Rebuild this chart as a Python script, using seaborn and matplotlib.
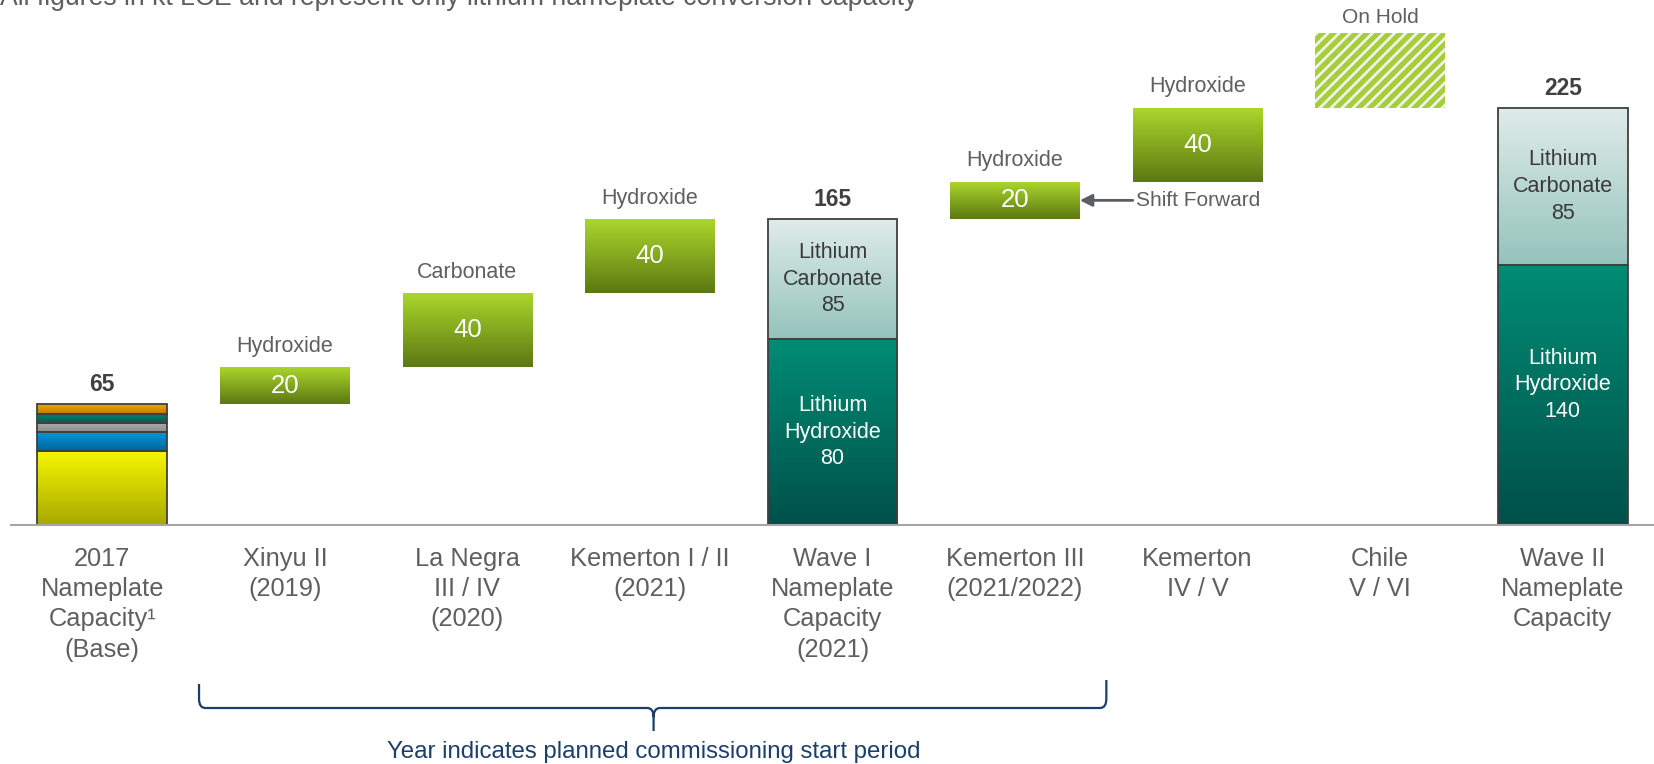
import numpy as np
import matplotlib
matplotlib.use("Agg")
import matplotlib.pyplot as plt
import seaborn as sns
from matplotlib.colors import LinearSegmentedColormap
from matplotlib.path import Path
from matplotlib.patches import PathPatch
from matplotlib.transforms import blended_transform_factory

# ---------------- data (kt LCE) ----------------
categories = [
    "2017\nNameplate\nCapacity\u00b9\n(Base)",
    "Xinyu II\n(2019)",
    "La Negra\nIII / IV\n(2020)",
    "Kemerton I / II\n(2021)",
    "Wave I\nNameplate\nCapacity\n(2021)",
    "Kemerton III\n(2021/2022)",
    "Kemerton\nIV / V",
    "Chile\nV / VI",
    "Wave II\nNameplate\nCapacity",
]
base_total = 65
base_segments = [40, 10, 5, 5, 5]          # yellow, blue, grey, teal, orange
step_names = ["Xinyu II", "La Negra", "Kemerton I/II", "Kemerton III", "Kemerton IV/V"]
step_products = ["Hydroxide", "Carbonate", "Hydroxide", "Hydroxide", "Hydroxide"]
step_values = [20, 40, 40, 20, 40]
on_hold_value = 40                          # Chile V / VI
wave1_total = 165
wave1_labels = [80, 85]                     # hydroxide, carbonate (as labelled)
wave1_drawn = [100, 65]                     # hydroxide, carbonate (as drawn)
wave2_total = 225
wave2_segments = [140, 85]                  # hydroxide, carbonate

# ---------------- style ----------------
sns.set_style("white")
plt.rcParams["font.family"] = ["Liberation Sans", "DejaVu Sans"]
plt.rcParams["hatch.linewidth"] = 3.7

GREY_TXT = "#5f5f5f"
EDGE = "#404040"
NAVY = "#1b3f6b"

fig = plt.figure(figsize=(16.54, 7.64), dpi=100)
ax = fig.add_axes([11 / 1654, 239 / 764, 1643 / 1654, 525 / 764])

# waterfall positions
step_pos = [1, 2, 3, 5, 6]
step_tops = base_total + np.cumsum(step_values)
step_bottoms = step_tops - np.array(step_values)
chile_bottom = step_tops[-1]

heights0 = [base_segments[0]] + [0] * 8
bottoms0 = [0] * 9
for p, v, b in zip(step_pos, step_values, step_bottoms):
    heights0[p] = v
    bottoms0[p] = b
heights0[4] = wave1_drawn[0]
heights0[7] = on_hold_value
bottoms0[7] = chile_bottom
heights0[8] = wave2_segments[0]

W = 0.71
sns.barplot(x=categories, y=heights0, bottom=bottoms0, order=categories,
            width=W, errorbar=None, color="white", saturation=1, ax=ax)
bars0 = list(ax.patches)

# extra stacked segments
base_cum = np.cumsum(base_segments)
base_extra = ax.bar([0] * 4, base_segments[1:], bottom=base_cum[:-1], width=W)
w1_extra = ax.bar([4], [wave1_drawn[1]], bottom=[wave1_drawn[0]], width=W)
w2_extra = ax.bar([8], [wave2_segments[1]], bottom=[wave2_segments[0]], width=W)


def fill_gradient(patch, top_c, bot_c, edge=None):
    x0, y0 = patch.get_x(), patch.get_y()
    w, h = patch.get_width(), patch.get_height()
    cmap = LinearSegmentedColormap.from_list("g", [bot_c, top_c])
    im = ax.imshow(np.linspace(0, 1, 256).reshape(-1, 1), cmap=cmap,
                   extent=(x0, x0 + w, y0, y0 + h), origin="lower",
                   aspect="auto", interpolation="bilinear", zorder=1.5)
    im.set_clip_path(patch)
    patch.set_facecolor("none")
    patch.set_zorder(2)
    if edge is None:
        patch.set_linewidth(0)
    else:
        patch.set_edgecolor(edge)
        patch.set_linewidth(1.3)


GREEN = ("#acd82c", "#5c7812")
HYD = ("#008c75", "#00504a")
CARB = ("#e0ecea", "#94c3bb")

fill_gradient(bars0[0], "#f8f800", "#a8a800", EDGE)
for p in step_pos:
    fill_gradient(bars0[p], *GREEN)
fill_gradient(bars0[4], *HYD, EDGE)
fill_gradient(bars0[8], *HYD, EDGE)
# on hold
hb = bars0[7]
hb.set_facecolor("#f2f2f2")
hb.set_edgecolor("#a6ce39")
hb.set_hatch("///")
hb.set_linewidth(0)

base_cols = [("#0098da", "#00649c"), ("#ababab", "#8d8d8d"),
             ("#00876f", "#005d4e"), ("#f5a500", "#c07800")]
for patch, (t, b) in zip(base_extra.patches, base_cols):
    fill_gradient(patch, t, b, EDGE)
fill_gradient(w1_extra.patches[0], *CARB, EDGE)
fill_gradient(w2_extra.patches[0], *CARB, EDGE)

# ---------------- text ----------------
for x, v in [(0, base_total), (4, wave1_total), (8, wave2_total)]:
    ax.annotate(str(v), (x, v), xytext=(0, 14), textcoords="offset points",
                ha="center", va="center", fontsize=16.5, fontweight="bold",
                color=EDGE)

for p, v, b, name in zip(step_pos, step_values, step_bottoms, step_products):
    ax.text(p, b + v / 2, str(v), ha="center", va="center", fontsize=18.5,
            color="white")
    ax.annotate(name, (p, b + v), xytext=(0, 15), textcoords="offset points",
                ha="center", va="center", fontsize=15.5, color=GREY_TXT)

ax.annotate("On Hold", (7, chile_bottom + on_hold_value), xytext=(0, 11.5),
            textcoords="offset points", ha="center", va="center",
            fontsize=15, color=GREY_TXT)

seg_txt = dict(ha="center", va="center", fontsize=15.5, linespacing=1.35)
ax.text(4, wave1_drawn[0] / 2, f"Lithium\nHydroxide\n{wave1_labels[0]}",
        color="white", **seg_txt)
ax.text(4, wave1_drawn[0] + wave1_drawn[1] / 2,
        f"Lithium\nCarbonate\n{wave1_labels[1]}", color="#3a3a3a", **seg_txt)
ax.text(8, wave2_segments[0] * 0.54, f"Lithium\nHydroxide\n{wave2_segments[0]}",
        color="white", **seg_txt)
ax.text(8, wave2_segments[0] + wave2_segments[1] / 2,
        f"Lithium\nCarbonate\n{wave2_segments[1]}", color="#3a3a3a", **seg_txt)

# shift forward arrow
kem3_mid = step_bottoms[3] + step_values[3] / 2
ax.annotate("", xy=(5 + W / 2, kem3_mid), xytext=(5.645, kem3_mid),
            arrowprops=dict(arrowstyle="-|>", color="#5a5f63", lw=2,
                            mutation_scale=18, shrinkA=0, shrinkB=0))
ax.text(5.665, kem3_mid, "Shift Forward", ha="left", va="center",
        fontsize=15, color=GREY_TXT)

# ---------------- axes ----------------
ax.set_xlim(-0.5, 8.5)
ax.set_ylim(0, 283)
ax.set_yticks([])
ax.set_xlabel("")
ax.set_ylabel("")
ax.set_xticks(range(9))
ax.set_xticklabels(categories, linespacing=1.34)
ax.set_xticks(np.arange(-0.5, 9, 1), minor=True)
ax.tick_params(axis="x", which="major", length=0, pad=15.5, labelsize=18.3,
               labelcolor=GREY_TXT)
ax.tick_params(axis="x", which="minor", length=5.5, width=1.5,
               color="#a6a6a6", direction="out")
for s in ["left", "top", "right"]:
    ax.spines[s].set_visible(False)
ax.spines["bottom"].set_color("#a6a6a6")
ax.spines["bottom"].set_linewidth(1.5)
ax.set_zorder(1)

# ---------------- bracket & notes ----------------
tr = blended_transform_factory(ax.transData, fig.transFigure)
x0, x1, xc = 0.53, 5.50, 3.02
yt_l, yt_r, yh, yp = 1 - 684 / 764, 1 - 680 / 764, 1 - 708 / 764, 1 - 731 / 764
rx, ry = 0.035, 0.012
verts = [
    (x0, yt_l), (x0, yh + ry), (x0, yh), (x0 + rx, yh),
    (xc - rx, yh), (xc, yh), (xc, yh - ry), (xc, yp),
    (xc, yh - ry), (xc, yh), (xc + rx, yh),
    (x1 - rx, yh), (x1, yh), (x1, yh + ry), (x1, yt_r),
]
codes = [Path.MOVETO, Path.LINETO, Path.CURVE3, Path.CURVE3,
         Path.LINETO, Path.CURVE3, Path.CURVE3, Path.LINETO,
         Path.MOVETO, Path.CURVE3, Path.CURVE3,
         Path.LINETO, Path.CURVE3, Path.CURVE3, Path.LINETO]
fig.add_artist(PathPatch(Path(verts, codes), transform=tr, fill=False,
                         edgecolor=NAVY, lw=1.6, clip_on=False))
fig.text(xc, 1 - 752 / 764, "Year indicates planned commissioning start period",
         transform=tr, ha="center", va="center", fontsize=17.3, color=NAVY)

fig.text(0.0, 1 - 5 / 764,
         "All figures in kt LCE and represent only lithium nameplate conversion capacity",
         ha="left", va="baseline", fontsize=19.2, color=GREY_TXT)

fig.savefig("out.png", dpi=100)
